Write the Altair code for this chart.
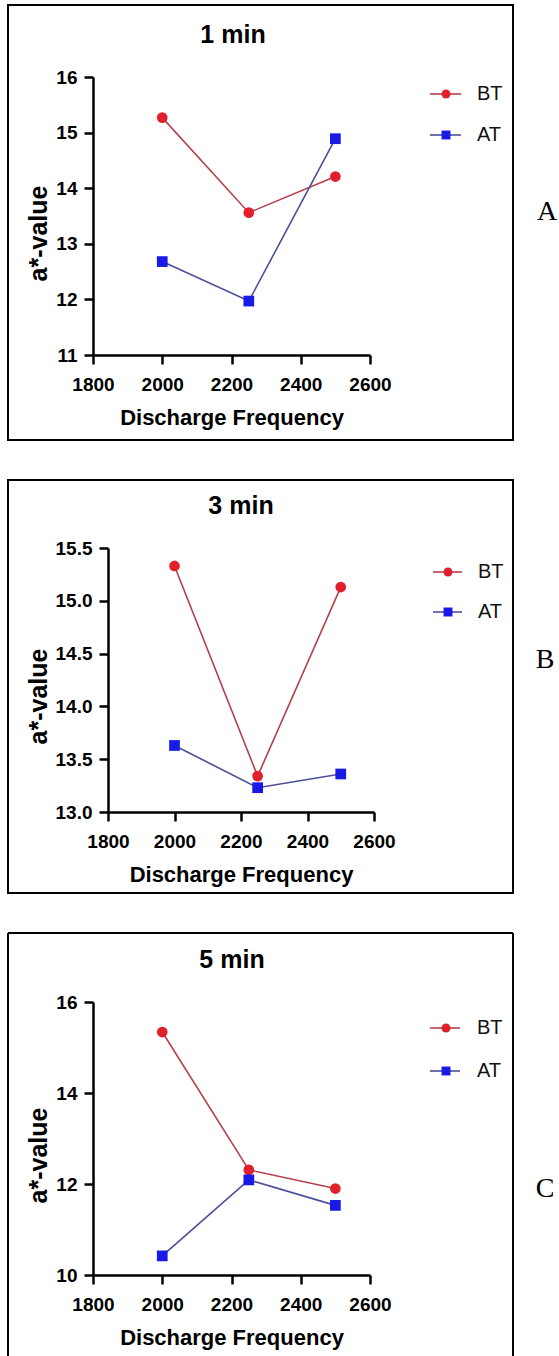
import altair as alt
import pandas as pd

# ---- data ----
freq = [2000, 2250, 2500]
series_names = ["BT", "AT"]
bt_1min = [15.27, 13.56, 14.21]
at_1min = [12.68, 11.97, 14.89]
bt_3min = [15.33, 13.34, 15.13]
at_3min = [13.63, 13.23, 13.36]
bt_5min = [15.34, 12.31, 11.90]
at_5min = [10.42, 12.09, 11.53]
x_ticks = [1800, 2000, 2200, 2400, 2600]
y_ticks_1 = [11, 12, 13, 14, 15, 16]
y_ticks_3 = [13.0, 13.5, 14.0, 14.5, 15.0, 15.5]
y_ticks_5 = [10, 12, 14, 16]
panel_titles = ["1 min", "3 min", "5 min"]
panel_letters = ["A", "B", "C"]

marker_colors = ["#e0202a", "#1a1ae6"]
line_colors = ["#b5404c", "#4a4f9a"]

FONT = "Liberation Sans"


def panel(bt, at, title, letter, yticks, yfmt, geo, open_bottom=False):
    df = pd.DataFrame({
        "freq": freq + freq,
        "value": bt + at,
        "series": ["BT"] * len(bt) + ["AT"] * len(at),
    })
    df_leg = pd.DataFrame({"series": series_names})
    df_one = pd.DataFrame({"title": [title], "letter": [letter]})

    s = geo["shift"]          # horizontal shift of the plot inside the shared column
    W = geo["w"]

    xenc = alt.X(
        "freq:Q",
        scale=alt.Scale(domain=[x_ticks[0], x_ticks[-1]], nice=False, zero=False,
                        range=[-s, W - s]),
        axis=alt.Axis(values=x_ticks, format="d", title="Discharge Frequency",
                      titleY=69, titleBaseline="alphabetic"),
    )
    yenc = alt.Y(
        "value:Q",
        scale=alt.Scale(domain=[yticks[0], yticks[-1]], nice=False, zero=False),
        axis=alt.Axis(values=yticks, format=yfmt, title="a*-value", offset=s,
                      titleX=geo["ytx"], titleY=geo["yty"], titleAngle=270,
                      titleBaseline="alphabetic", titleAlign="center"),
    )
    stroke = alt.Stroke("series:N", scale=alt.Scale(domain=series_names, range=line_colors), legend=None)
    fill = alt.Fill("series:N", scale=alt.Scale(domain=series_names, range=marker_colors), legend=None)
    shape = alt.Shape("series:N", scale=alt.Scale(domain=series_names, range=["circle", "square"]), legend=None)

    lines = alt.Chart(df).mark_line(strokeWidth=1.6).encode(x=xenc, y=yenc, stroke=stroke)
    pts = alt.Chart(df).mark_point(filled=True, size=115, opacity=1, strokeWidth=0).encode(
        x=xenc, y=yenc, fill=fill, shape=shape)
    main = alt.layer(lines, pts)

    ly = alt.Y("series:N", scale=alt.Scale(type="point", domain=series_names,
                                           range=[geo["ly0"], geo["ly1"]], padding=0), axis=None)
    leg_rule = alt.Chart(df_leg).mark_rule(strokeWidth=1.6).encode(
        x=alt.value(geo["lx0"] - s), x2=alt.value(geo["lx1"] - s), y=ly, stroke=stroke)
    leg_pt = alt.Chart(df_leg).mark_point(filled=True, size=80, opacity=1, strokeWidth=0).encode(
        x=alt.value(geo["lm"] - s), y=ly, fill=fill, shape=shape)
    leg_txt = alt.Chart(df_leg).mark_text(align="left", baseline="middle", font=FONT,
                                          fontSize=20, color="#111111").encode(
        x=alt.value(geo["lt"] - s), y=ly, text="series:N")
    legend = alt.layer(leg_rule, leg_pt, leg_txt)

    bx0, bx1, by0, by1 = geo["box"]
    bx0 -= s
    bx1 -= s
    if open_bottom:
        box = alt.layer(
            alt.Chart(df_one).mark_rule(color="black", strokeWidth=2).encode(
                x=alt.value(bx0), y=alt.value(by0), y2=alt.value(by1)),
            alt.Chart(df_one).mark_rule(color="black", strokeWidth=2).encode(
                x=alt.value(bx1), y=alt.value(by0), y2=alt.value(by1)),
            alt.Chart(df_one).mark_rule(color="black", strokeWidth=2).encode(
                x=alt.value(bx0), x2=alt.value(bx1), y=alt.value(by0)),
        )
    else:
        box = alt.Chart(df_one).mark_rect(fillOpacity=0, stroke="black", strokeWidth=2).encode(
            x=alt.value(bx0), x2=alt.value(bx1), y=alt.value(by0), y2=alt.value(by1))

    ttl = alt.Chart(df_one).mark_text(align="center", baseline="middle", font=FONT,
                                      fontWeight="bold", fontSize=25, color="black").encode(
        x=alt.value(geo["tx"] - s), y=alt.value(geo["ty"]), text="title:N")
    let = alt.Chart(df_one).mark_text(align="center", baseline="middle", font="Liberation Serif",
                                      fontSize=28, color="black").encode(
        x=alt.value(geo["ax"] - s), y=alt.value(geo["ay"]), text="letter:N")
    decor = alt.layer(box, ttl, let)

    return alt.layer(main, legend, decor).resolve_scale(y="independent").properties(
        width=W - s, height=geo["h"])


# geometry: positions relative to each panel's own y-axis line / plot top
geo_a = dict(shift=15, w=277, h=278, ytx=-47, yty=156, ly0=17, ly1=58, lx0=337, lx1=368, lm=353, lt=384,
             box=(-85, 420, -72, 363), tx=140, ty=-42, ax=454, ay=135)
geo_b = dict(shift=0, w=266, h=264, ytx=-62, yty=148, ly0=24, ly1=64, lx0=325, lx1=354, lm=340, lt=370,
             box=(-100, 405, -68, 345), tx=133, ty=-42, ax=437, ay=112)
geo_c = dict(shift=15, w=277, h=273, ytx=-47, yty=153, ly0=26, ly1=69, lx0=337, lx1=367, lm=353, lt=384,
             box=(-85, 420, -69, 354), tx=139, ty=-42, ax=452, ay=187)

pa = panel(bt_1min, at_1min, panel_titles[0], panel_letters[0], y_ticks_1, "d", geo_a)
pb = panel(bt_3min, at_3min, panel_titles[1], panel_letters[1], y_ticks_3, ".1f", geo_b)
pc = panel(bt_5min, at_5min, panel_titles[2], panel_letters[2], y_ticks_5, "d", geo_c, open_bottom=True)

chart = alt.vconcat(pa, pb, pc, spacing=38).properties(
    padding={"left": 7, "top": 4, "right": 0, "bottom": 0},
    background="white",
).configure_view(stroke=None).configure_axis(
    labelFont=FONT, labelFontWeight="bold", labelFontSize=19, labelColor="black",
    titleFont=FONT, titleFontWeight="bold", titleColor="black",
    domainColor="black", tickColor="black", domainWidth=2.5, tickWidth=2.5, tickSize=9,
    grid=False, labelFlush=False, labelOverlap=False,
).configure_axisX(labelPadding=11, titleFontSize=22).configure_axisY(labelPadding=7, titleFontSize=25)

chart.save("out.html", embed_options={"renderer": "svg", "actions": False})
